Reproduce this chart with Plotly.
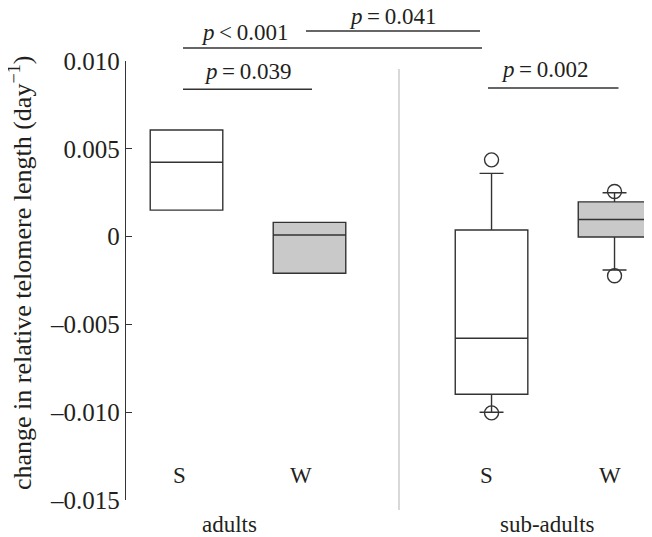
import plotly.graph_objects as go

# ---- data ----
groups = ["adults", "adults", "sub-adults", "sub-adults"]
seasons = ["S", "W", "S", "W"]
positions = [1.0, 2.0, 3.48, 4.48]
q1 = [0.00151, -0.00209, -0.00898, -0.00002]
median = [0.00423, 0.00009, -0.00579, 0.00097]
q3 = [0.00607, 0.00081, 0.00038, 0.00198]
lowerfence = [0.00151, -0.00209, -0.01000, -0.00190]
upperfence = [0.00607, 0.00081, 0.00360, 0.00250]
fills = ["white", "#c9c9c9", "white", "#c9c9c9"]
has_whiskers = [False, False, True, True]

outlier_x = [3.48, 3.48, 4.48, 4.48]
outlier_y = [0.00437, -0.01004, 0.00257, -0.00223]

ytick_vals = [0.010, 0.005, 0.0, -0.005, -0.010, -0.015]
ytick_text = ["0.010", "0.005", "0", "\u20130.005", "\u20130.010", "\u20130.015"]

comparisons = [  # (symbol, value, x0, x1, paper-y of line, x text, paper-y text)
    ("<", "0.001", 0.9715, 3.4024, 1.0296, 1.4675, 1.0640),
    ("=", "0.039", 0.9715, 2.0203, 0.9355, 1.4919, 0.9770),
    ("=", "0.041", 1.9715, 3.3862, 1.0683, 2.6748, 1.1020),
    ("=", "0.002", 3.4512, 4.5122, 0.9385, 3.9106, 0.9810),
]

INK = "#231f20"
LINE = "#333333"
FONT = "Liberation Serif, Times New Roman, serif"

fig = go.Figure()
for i in range(4):
    fig.add_trace(go.Box(
        x=[positions[i]], q1=[q1[i]], median=[median[i]], q3=[q3[i]],
        lowerfence=[lowerfence[i]], upperfence=[upperfence[i]],
        width=0.59, whiskerwidth=0.33 if has_whiskers[i] else 0,
        fillcolor=fills[i], line=dict(color=LINE, width=1.4),
        boxpoints=False, showlegend=False, hoverinfo="skip",
    ))

fig.add_trace(go.Scatter(
    x=outlier_x, y=outlier_y, mode="markers", showlegend=False,
    marker=dict(symbol="circle-open", size=14, color=LINE, line=dict(width=1.4, color=LINE)),
    hoverinfo="skip",
))

shapes = []
annotations = []
for sym, val, x0, x1, yl, xt, yt in comparisons:
    shapes.append(dict(type="line", xref="x", yref="paper", x0=x0, x1=x1, y0=yl, y1=yl,
                       line=dict(color=LINE, width=1.4)))
    annotations.append(dict(xref="x", yref="paper", x=xt, y=yt, showarrow=False,
                            text=f"<i>p</i>\u2009{sym}\u2009{val}", borderpad=0,
                            font=dict(family=FONT, size=23, color=INK),
                            xanchor="center", yanchor="middle"))

# separator between groups
shapes.append(dict(type="line", xref="x", yref="paper", x0=2.7276, x1=2.7276, y0=-0.0228, y1=0.9818,
                   line=dict(color="#c8c8c8", width=1.4)))

# season labels
label_x = [0.947, 1.931, 3.443, 4.443]
for lx, s in zip(label_x, seasons):
    annotations.append(dict(xref="x", yref="paper", x=lx, y=0.0547, text=s, showarrow=False,
                            font=dict(family=FONT, size=23, color=INK),
                            xanchor="center", yanchor="middle"))
# group labels
for gx, g in [(1.3455, "adults"), (3.931, "sub-adults")]:
    annotations.append(dict(xref="x", yref="paper", x=gx, y=-0.055, text=g, showarrow=False,
                            font=dict(family=FONT, size=23, color=INK),
                            xanchor="center", yanchor="middle"))

# y-axis title
annotations.append(dict(xref="paper", yref="paper", x=-0.2015, y=0.517, showarrow=False,
                        textangle=-90, borderpad=0,
                        text="change in relative telomere length (day<sup>\u22121</sup>)",
                        font=dict(family=FONT, size=26, color=INK),
                        xanchor="center", yanchor="middle"))

fig.update_layout(
    width=644, height=529,
    margin=dict(l=118, r=0, t=53, b=37),
    paper_bgcolor="white", plot_bgcolor="white",
    shapes=shapes, annotations=annotations,
    xaxis=dict(range=[0.5081, 4.7846], visible=False, showgrid=False, zeroline=False),
    yaxis=dict(range=[-0.015, 0.010], tickvals=ytick_vals, ticktext=ytick_text,
               ticks="inside", ticklen=6, tickcolor=LINE, tickwidth=1.4,
               showline=True, linecolor=LINE, linewidth=1.4,
               showgrid=False, zeroline=False,
               tickfont=dict(family=FONT, size=25, color=INK)),
)

fig.write_html("out.html")
